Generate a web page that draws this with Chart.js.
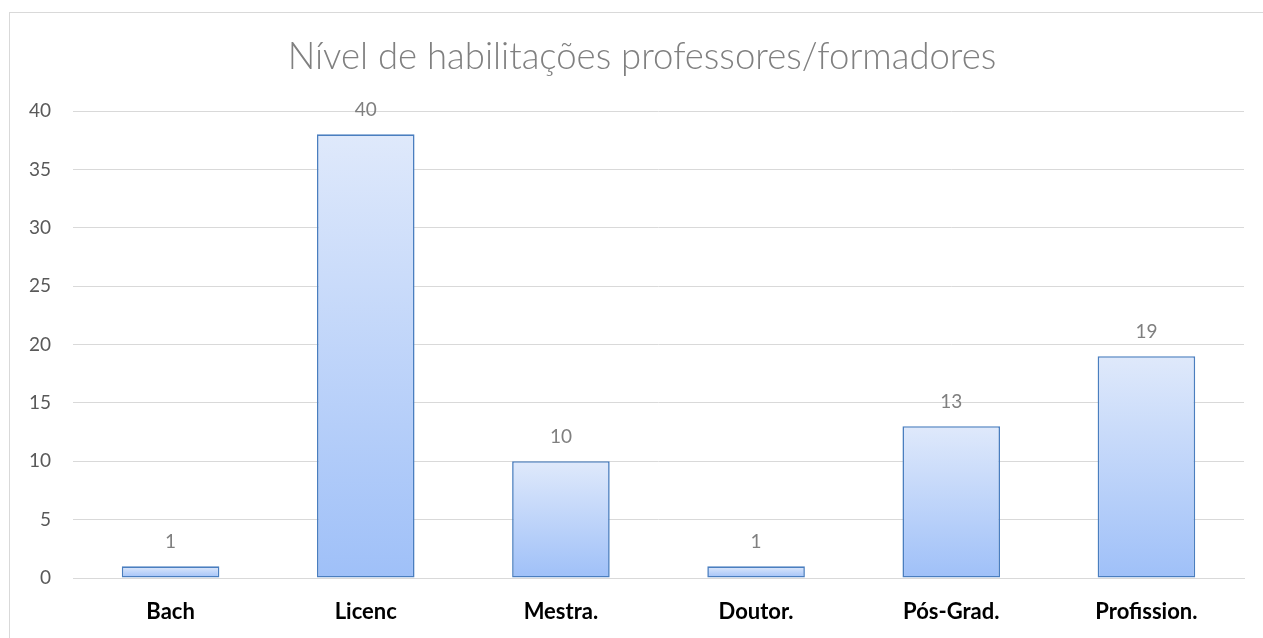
<!DOCTYPE html>
<html><head><meta charset="utf-8">
<script src="https://cdn.jsdelivr.net/npm/chart.js@4/dist/chart.umd.min.js"></script>
<style>
html,body{margin:0;padding:0;background:#fff;overflow:hidden}
#wrap{position:relative;width:1263px;height:638px}
#frame{position:absolute;left:9px;top:12px;width:1400px;height:800px;border:1px solid #d9d9d9;box-sizing:border-box}
canvas{position:absolute;left:0;top:0}
</style></head>
<body><div id="wrap"><div id="frame"></div><canvas id="c" width="1263" height="638"></canvas></div>
<script>
const categories = ["Bach","Licenc","Mestra.","Doutor.","Pós-Grad.","Profission."];
const values = [1,38,10,1,13,19];
const valueLabels = ["1","40","10","1","13","19"];
const yTicks = [0,5,10,15,20,25,30,35,40];
const titleText = "Nível de habilitações professores/formadores";

const FONT = "Lato, 'Open Sans', sans-serif";

const dataLabelPlugin = {
  id: 'dl',
  afterDatasetsDraw(chart){
    const ctx = chart.ctx;
    const meta = chart.getDatasetMeta(0);
    ctx.save();
    ctx.font = "19px " + FONT;
    ctx.fillStyle = "#7f7f7f";
    ctx.textAlign = "center";
    ctx.textBaseline = "middle";
    meta.data.forEach((bar,i)=>{
      ctx.fillText(valueLabels[i], bar.x, bar.y - 24);
    });
    ctx.restore();
  }
};

const titlePlugin = {
  id: 'ttl',
  afterDraw(chart){
    const ctx = chart.ctx;
    ctx.save();
    ctx.font = "300 36.5px " + FONT;
    ctx.fillStyle = "#808080";
    ctx.textAlign = "center";
    ctx.textBaseline = "middle";
    ctx.fillText(titleText, 642, 57);
    ctx.restore();
  }
};

new Chart(document.getElementById('c'), {
  type: 'bar',
  data: {
    labels: categories,
    datasets: [{
      data: values,
      barPercentage: 0.5,
      categoryPercentage: 1,
      borderColor: '#4a7ebf',
      borderWidth: 1.6,
      borderSkipped: false,
      backgroundColor(ctx){
        const chart = ctx.chart;
        const ys = chart.scales.y;
        if (!ys || ctx.parsed === undefined) return '#bcd2f9';
        const top = ys.getPixelForValue(ctx.parsed.y);
        const bot = ys.getPixelForValue(0);
        if (!isFinite(top) || !isFinite(bot) || top === bot) return '#bcd2f9';
        const g = chart.ctx.createLinearGradient(0, top, 0, bot);
        g.addColorStop(0, '#dfe9fb');
        g.addColorStop(1, '#9fc0f8');
        return g;
      }
    }]
  },
  options: {
    responsive: false,
    animation: false,
    layout: { padding: { top: 111, right: 19, bottom: 0, left: 0 } },
    plugins: {
      legend: { display: false },
      tooltip: { enabled: false },
      title: { display: false }
    },
    scales: {
      x: {
        grid: { display: false, drawTicks: false },
        border: { display: true, color: '#d9d9d9', width: 1 },
        ticks: { color: '#000', font: { family: FONT, size: 22, weight: 'bold' }, padding: 21 },
        afterFit(s){ s.height = 60; }
      },
      y: {
        min: 0, max: 40,
        afterBuildTicks(s){ s.ticks = yTicks.map(v=>({value:v})); },
        grid: { color: '#d9d9d9', lineWidth: 1, drawTicks: false },
        border: { display: false },
        ticks: { color: '#595959', font: { family: FONT, size: 19 }, padding: 22 },
        afterFit(s){ s.width = 73; }
      }
    }
  },
  plugins: [dataLabelPlugin, titlePlugin]
});
</script></body></html>
